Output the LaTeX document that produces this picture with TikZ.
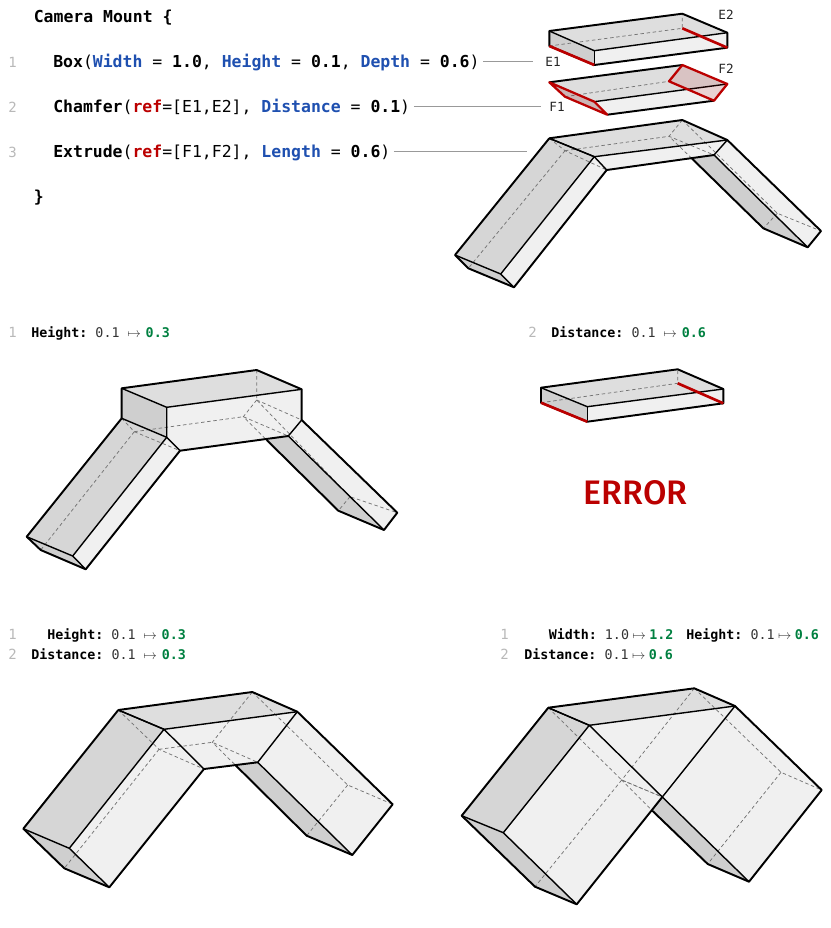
\documentclass[tikz,border=0pt]{standalone}
\usepackage{fontspec}
\setmonofont{DejaVu Sans Mono}
\newfontfamily\errorfont{Fira Sans Medium}
\usetikzlibrary{positioning}

\definecolor{paramblue}{HTML}{1F50B0}
\definecolor{refred}{HTML}{BB0000}
\definecolor{newgreen}{HTML}{008040}

\newcommand{\param}[1]{\textcolor{paramblue}{\textbf{#1}}}
\newcommand{\refkey}[1]{\textcolor{refred}{\textbf{#1}}}
\newcommand{\newval}[1]{\textcolor{newgreen}{\textbf{#1}}}
\newcommand{\wideto}{ $\mapsto$\kern3.6pt}
\newcommand{\tightto}{\kern2.6pt$\mapsto$\kern2.6pt}

% plain box, from corners a b c d and lower corners ab bb cb db
\newcommand{\drawblock}{
  \fill[topface] (a) -- (b) -- (c) -- (d) -- cycle;
  \fill[wallface] (a) -- (d) -- (db) -- (ab) -- cycle;
  \fill[lightface] (d) -- (c) -- (cb) -- (db) -- cycle;
  \draw[hidden] (ab) -- (bb) -- (b);
  \draw[outline] (a) -- (b) -- (c) -- (cb) -- (db) -- (ab) -- cycle;
  \draw[edgeline] (a) -- (d) -- (c);
  \draw[edgeline] (d) -- (db);
  \draw[redline] (ab) -- (db);
  \draw[redline] (bb) -- (cb);
}

% chamfered box with two legs
\newcommand{\drawmount}{
  \fill[topface] (a) -- (b) -- (c) -- (d) -- cycle;
  \fill[wallface] (a) -- (d) -- (d1) -- (a1) -- cycle;
  \fill[lightface] (d) -- (c) -- (c1) -- (c2) -- (d2) -- (d1) -- cycle;
  \fill[midface] (a1) -- (d1) -- (d1e) -- (a1e) -- cycle;
  \fill[lightface] (d1) -- (d2) -- (d2e) -- (d1e) -- cycle;
  \fill[lightface] (c1) -- (c2) -- (c2e) -- (c1e) -- cycle;
  \fill[wallface] (cross) -- (c2) -- (c2e) -- (b2e) -- cycle;
  \fill[wallface] (a1e) -- (d1e) -- (d2e) -- (a2e) -- cycle;
  % hidden edges
  \draw[hidden] (b) -- (b1) -- (b1e) -- (c1e);
  \draw[hidden] (b1) -- (b2) -- (cross);
  \draw[hidden] (b1e) -- (b2e);
  \draw[hidden] (a1) -- (a2) -- (d2);
  \draw[hidden] (a2) -- (b2) -- (c2);
  \draw[hidden] (a2) -- (a2e);
  \draw[hidden] (b1) -- (c1);
  % visible edges
  \draw[edgeline] (c) -- (d) -- (a);
  \draw[edgeline] (a1) -- (d1) -- (d);
  \draw[edgeline] (a1e) -- (d1e) -- (d2e);
  \draw[edgeline] (d1e) -- (d1) -- (d2);
  \draw[edgeline] (c1) -- (c2) -- (c2e);
  % outline
  \draw[outline] (a1) -- (a) -- (b) -- (c) -- (c1) -- (c1e) -- (c2e) -- (b2e) -- (cross);
  \draw[outline] (c2) -- (d2) -- (d2e) -- (a2e) -- (a1e) -- (a1);
}

\begin{document}
\begin{tikzpicture}[
  x=0.75pt,y=-0.75pt,
  topface/.style={fill=black!13},
  wallface/.style={fill=black!19},
  midface/.style={fill=black!16},
  lightface/.style={fill=black!6},
  edgeline/.style={draw=black,line width=1.05pt,line join=round},
  outline/.style={draw=black,line width=1.45pt,line join=round},
  hidden/.style={draw=black!55,line width=0.55pt,dash pattern=on 2.6pt off 2pt},
  redline/.style={draw=refred,line width=2pt},
  redface/.style={draw=refred,line width=1.7pt,line join=round,fill=refred,fill opacity=0.12},
  leader/.style={draw=black!40,line width=0.55pt},
  codetext/.style={font=\ttfamily\fontsize{12.35}{15}\selectfont,anchor=base west,inner sep=0pt,text height=9.5pt,text depth=0.5pt},
  headtext/.style={font=\ttfamily\fontsize{10}{12}\selectfont,anchor=base west,inner sep=0pt,text=black!80},
  numtext/.style={font=\ttfamily\fontsize{10.5}{12}\selectfont,anchor=base west,inner sep=0pt,text=black!28},
  edgelabel/.style={font=\ttfamily\fontsize{9.5}{11}\selectfont,inner sep=0pt,text=black!85}
]
  \useasboundingbox (0,0) rectangle (831,928);

  % code
  \node[codetext] (title) at (33.5,22) {\textbf{Camera Mount \{}};
  \node[numtext] (n1) at (8,67) {1};
  \node[codetext] (boxline) at (53,67) {\textbf{Box}(\param{Width} = \textbf{1.0}, \param{Height} = \textbf{0.1}, \param{Depth} = \textbf{0.6})};
  \node[numtext] (n2) at (8,112.5) {2};
  \node[codetext] (chamferline) at (53,112.5) {\textbf{Chamfer}(\refkey{ref}=[E1,E2], \param{Distance} = \textbf{0.1})};
  \node[numtext] (n3) at (8,157) {3};
  \node[codetext] (extrudeline) at (53,157) {\textbf{Extrude}(\refkey{ref}=[F1,F2], \param{Length} = \textbf{0.6})};
  \node[codetext] (closing) at (33.5,202) {\textbf{\}}};

  % edge labels and leaders
  \node[edgelabel] (e1) at (553,62) {E1};
  \node[edgelabel] (e2) at (726,15) {E2};
  \node[edgelabel] (f1) at (557,107) {F1};
  \node[edgelabel] (f2) at (726,69) {F2};
  \coordinate (extrudeend) at (527,151);
  \draw[leader,shorten <=2.5pt,shorten >=9pt] (boxline.east) -- (boxline.east -| e1.west);
  \draw[leader,shorten <=2.5pt,shorten >=6pt] (chamferline.east) -- (chamferline.east -| f1.west);
  \draw[leader,shorten <=2.5pt] (extrudeline.east) -- (extrudeline.east -| extrudeend);

  % top box
  \coordinate (a) at (549.3,31); \coordinate (b) at (682.3,13.7); \coordinate (c) at (727.3,32.7); \coordinate (d) at (594.3,50.7);
  \coordinate (ab) at (549.3,46); \coordinate (bb) at (682.3,28.3); \coordinate (cb) at (727.3,47.7); \coordinate (db) at (594.3,65);
  \drawblock

  % chamfered box
  \coordinate (a) at (549.3,82.3); \coordinate (b) at (682.3,65); \coordinate (c) at (727.3,84); \coordinate (d) at (594.3,101.7);
  \coordinate (a2) at (565,96.7); \coordinate (b2) at (669,81.3); \coordinate (c2) at (714,100.7); \coordinate (d2) at (607.3,114.7);
  \fill[topface] (a) -- (b) -- (c) -- (d) -- cycle;
  \fill[lightface] (d) -- (c) -- (c2) -- (d2) -- cycle;
  \fill[wallface] (a) -- (d) -- (d2) -- (a2) -- cycle;
  \draw[hidden] (a2) -- (b2);
  \draw[outline] (a) -- (b);
  \draw[edgeline] (d) -- (c);
  \draw[outline] (d2) -- (c2);
  \draw[redface] (a) -- (d) -- (d2) -- (a2) -- cycle;
  \draw[redface] (b) -- (c) -- (c2) -- (b2) -- cycle;

  % extruded mount
  \coordinate (a) at (549.3,138.3); \coordinate (b) at (682.3,120); \coordinate (c) at (727.3,140); \coordinate (d) at (594.3,156.7);
  \coordinate (a1) at (a); \coordinate (b1) at (b); \coordinate (c1) at (c); \coordinate (d1) at (d);
  \coordinate (a2) at (565,150.7); \coordinate (b2) at (669,136.3); \coordinate (c2) at (714,155); \coordinate (d2) at (606.7,170);
  \coordinate (a1e) at (455,255); \coordinate (d1e) at (500.7,274); \coordinate (d2e) at (514,287.3); \coordinate (a2e) at (468.3,268.3);
  \coordinate (c1e) at (821,231); \coordinate (c2e) at (807.7,247.3); \coordinate (b2e) at (763.3,228.3); \coordinate (b1e) at (777.3,213.3);
  \coordinate (cross) at (691.7,158.3);
  \drawmount

  % edit 1
  \node[numtext] (n4) at (8,337) {1};
  \node[headtext] (edit1) at (31,337) {\textcolor{black}{\textbf{Height:}} 0.1\wideto\newval{0.3}};
  \coordinate (a) at (121.7,388.3); \coordinate (b) at (256.7,370); \coordinate (c) at (301.7,389.3); \coordinate (d) at (166.7,407.3);
  \coordinate (a1) at (121.7,418.3); \coordinate (b1) at (256.7,400); \coordinate (c1) at (301.7,420); \coordinate (d1) at (166.7,437.3);
  \coordinate (a2) at (134.3,431.7); \coordinate (b2) at (243.3,416.7); \coordinate (c2) at (288.3,436); \coordinate (d2) at (180,450.7);
  \coordinate (a1e) at (26.7,536.7); \coordinate (d1e) at (72.7,556); \coordinate (d2e) at (85.7,569.3); \coordinate (a2e) at (40.7,550);
  \coordinate (c1e) at (397.3,512.7); \coordinate (c2e) at (384,530); \coordinate (b2e) at (338.3,510.7); \coordinate (b1e) at (350,496.7);
  \coordinate (cross) at (266.7,440);
  \drawmount

  % edit 2
  \node[numtext] (n5) at (528,337) {2};
  \node[headtext] (edit2) at (551,337) {\textcolor{black}{\textbf{Distance:}} 0.1\wideto\newval{0.6}};
  \coordinate (a) at (541,387.7); \coordinate (b) at (677.7,369.3); \coordinate (c) at (723.3,389); \coordinate (d) at (587.3,406.7);
  \coordinate (ab) at (541,402.7); \coordinate (bb) at (677.7,383.3); \coordinate (cb) at (723.3,403.3); \coordinate (db) at (587.3,421.7);
  \drawblock
  \node[font=\errorfont\fontsize{25.5}{30}\selectfont,text=refred,inner sep=0pt] (errorlabel) at (635.5,493) {ERROR};

  % edit 3
  \node[numtext] (n6) at (8,639) {1};
  \node[headtext] (edit3a) at (47,639) {\textcolor{black}{\textbf{Height:}} 0.1\wideto\newval{0.3}};
  \node[numtext] (n7) at (8,659.5) {2};
  \node[headtext] (edit3b) at (31,659.5) {\textcolor{black}{\textbf{Distance:}} 0.1\wideto\newval{0.3}};
  \coordinate (a) at (118.3,710); \coordinate (b) at (252.3,692); \coordinate (c) at (297.3,711.7); \coordinate (d) at (164,729.3);
  \coordinate (a1) at (a); \coordinate (b1) at (b); \coordinate (c1) at (c); \coordinate (d1) at (d);
  \coordinate (a2) at (159,749.3); \coordinate (b2) at (212.3,742.3); \coordinate (c2) at (257.7,762.3); \coordinate (d2) at (204,769);
  \coordinate (a1e) at (23.3,828.7); \coordinate (d1e) at (69.3,848.3); \coordinate (d2e) at (109.3,887.3); \coordinate (a2e) at (64.3,868.3);
  \coordinate (c1e) at (392.7,804.3); \coordinate (c2e) at (352.3,855); \coordinate (b2e) at (306.7,835.7); \coordinate (b1e) at (347.7,785);
  \coordinate (cross) at (235.3,765);
  \drawmount

  % edit 4
  \node[numtext] (n8) at (500,639) {1};
  \node[headtext] (edit4a) at (548.5,639) {\textcolor{black}{\textbf{Width:}} 1.0\tightto\newval{1.2}\kern9.7pt\textcolor{black}{\textbf{Height:}} 0.1\tightto\newval{0.6}};
  \node[numtext] (n9) at (500,659.5) {2};
  \node[headtext] (edit4b) at (524,659.5) {\textcolor{black}{\textbf{Distance:}} 0.1\tightto\newval{0.6}};
  \coordinate (a) at (548.3,707.7); \coordinate (b) at (694.3,688.3); \coordinate (c) at (735,706); \coordinate (d) at (589.3,725.3);
  \coordinate (a1) at (a); \coordinate (b1) at (b); \coordinate (c1) at (c); \coordinate (d1) at (d);
  \coordinate (a2) at (621.7,780); \coordinate (b2) at (621.7,780); \coordinate (c2) at (662.3,797); \coordinate (d2) at (662.3,797);
  \coordinate (a1e) at (461.7,815.7); \coordinate (d1e) at (503.3,832.7); \coordinate (d2e) at (576.7,904.3); \coordinate (a2e) at (535,886.7);
  \coordinate (c1e) at (821.7,790); \coordinate (c2e) at (749,881.7); \coordinate (b2e) at (707.7,864); \coordinate (b1e) at (781,772.3);
  \coordinate (cross) at (652.3,810.7);
  \drawmount
\end{tikzpicture}
\end{document}
